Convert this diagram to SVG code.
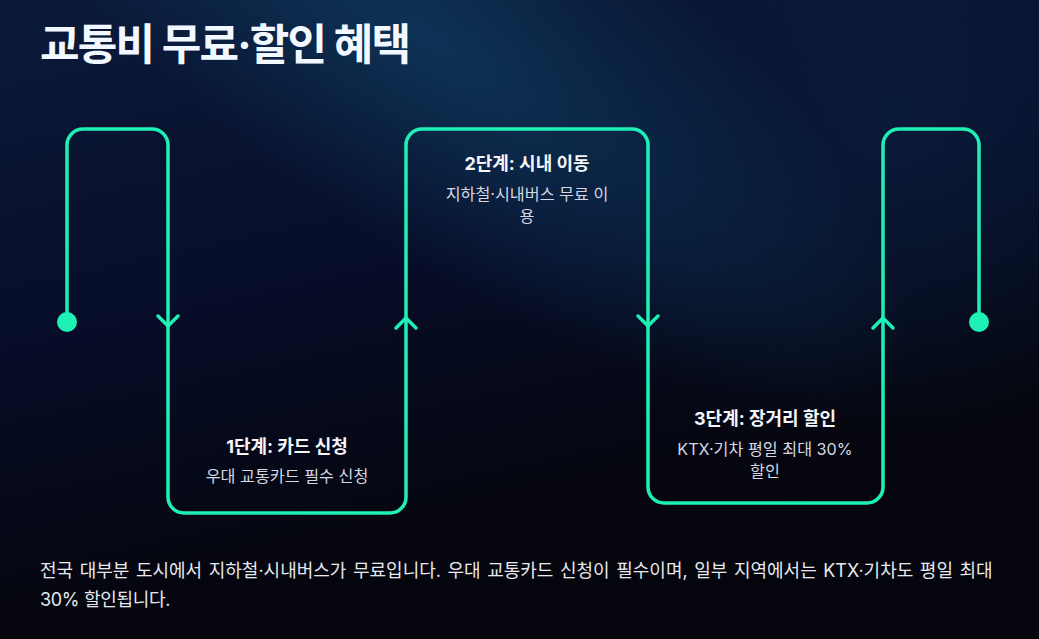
<svg xmlns="http://www.w3.org/2000/svg" width="1039" height="639" viewBox="0 0 1039 639">
<defs>
<linearGradient id="bg" x1="0" y1="0" x2="0.35" y2="1">
<stop offset="0" stop-color="#0b1a3a"/>
<stop offset="0.5" stop-color="#070d28"/>
<stop offset="0.85" stop-color="#05060f"/>
<stop offset="1" stop-color="#05050d"/>
</linearGradient>
<radialGradient id="glow" cx="430" cy="40" r="360" gradientUnits="userSpaceOnUse" gradientTransform="rotate(35 430 40) scale(1.6 0.55) translate(-161 32)">
<stop offset="0" stop-color="#0e3a5e" stop-opacity="0.8"/>
<stop offset="1" stop-color="#0e3a5e" stop-opacity="0"/>
</radialGradient>
<radialGradient id="glow2" cx="900" cy="120" r="320" gradientUnits="userSpaceOnUse">
<stop offset="0" stop-color="#0b2242" stop-opacity="0.6"/>
<stop offset="1" stop-color="#0b2242" stop-opacity="0"/>
</radialGradient>
<path id="chevDown" d="M-10 -6 L0 4 L10 -6"/>
<path id="chevUp" d="M-10 6 L0 -4 L10 6"/>
</defs>
<style>
.flow{fill:none;stroke:#1ff0b6;stroke-width:3.5;stroke-linecap:round;stroke-linejoin:round}
.dot{fill:#1ff0b6}
.title{font-family:Inter,"Noto Sans CJK KR",sans-serif;font-weight:700;font-size:43px;letter-spacing:-1.8px;fill:#f2f8ff}
.stepT{font-family:Inter,"Noto Sans CJK KR",sans-serif;font-weight:700;font-size:18px;fill:#f4f6fb;text-anchor:middle}
.stepD{font-family:Inter,"Noto Sans CJK KR",sans-serif;font-weight:400;font-size:16.2px;fill:#d4d8e2;text-anchor:middle}
.body{font-family:Inter,"Noto Sans CJK KR",sans-serif;font-weight:400;font-size:18px;word-spacing:1.5px;fill:#e6e9f0}
.tight{word-spacing:0;letter-spacing:-0.3px}
</style>
<rect width="1039" height="639" fill="url(#bg)"/>
<rect width="1039" height="639" fill="url(#glow2)"/>
<rect width="1039" height="639" fill="url(#glow)"/>
<text class="title" x="40" y="60">교통비 무료·할인 혜택</text>
<g id="connectors">
<path class="flow" d="M67 322 V145 A16 16 0 0 1 83 129 H152 A16 16 0 0 1 168 145 V497 A16 16 0 0 0 184 513 H390 A16 16 0 0 0 406 497 V145 A16 16 0 0 1 422 129 H632 A16 16 0 0 1 648 145 V487 A16 16 0 0 0 664 503 H867 A16 16 0 0 0 883 487 V145 A16 16 0 0 1 899 129 H963 A16 16 0 0 1 979 145 V322"/>
<use href="#chevDown" class="flow" x="168" y="322"/>
<use href="#chevUp" class="flow" x="406" y="322"/>
<use href="#chevDown" class="flow" x="648" y="322"/>
<use href="#chevUp" class="flow" x="883" y="322"/>
</g>
<g id="start"><circle class="dot" cx="67" cy="322" r="10"/></g>
<g id="end"><circle class="dot" cx="979" cy="322" r="10"/></g>
<g id="step1">
<text class="stepT" x="287" y="453">1단계: 카드 신청</text>
<text class="stepD" x="287" y="482">우대 교통카드 필수 신청</text>
</g>
<g id="step2">
<text class="stepT" x="527" y="170">2단계: 시내 이동</text>
<text class="stepD" x="527" y="200">지하철·시내버스 무료 이</text>
<text class="stepD" x="527" y="222">용</text>
</g>
<g id="step3">
<text class="stepT" x="765" y="425">3단계: 장거리 할인</text>
<text class="stepD" x="765" y="455">KTX·기차 평일 최대 30%</text>
<text class="stepD" x="765" y="477">할인</text>
</g>
<g id="description">
<text class="body" x="40" y="577">전국 대부분 도시에서 지하철·시내버스가 무료입니다. 우대 교통카드 신청이 필수이며, 일부 지역에서는 KTX·기차도 평일 최대</text>
<text class="body tight" x="40" y="606">30% 할인됩니다.</text>
</g>
</svg>
